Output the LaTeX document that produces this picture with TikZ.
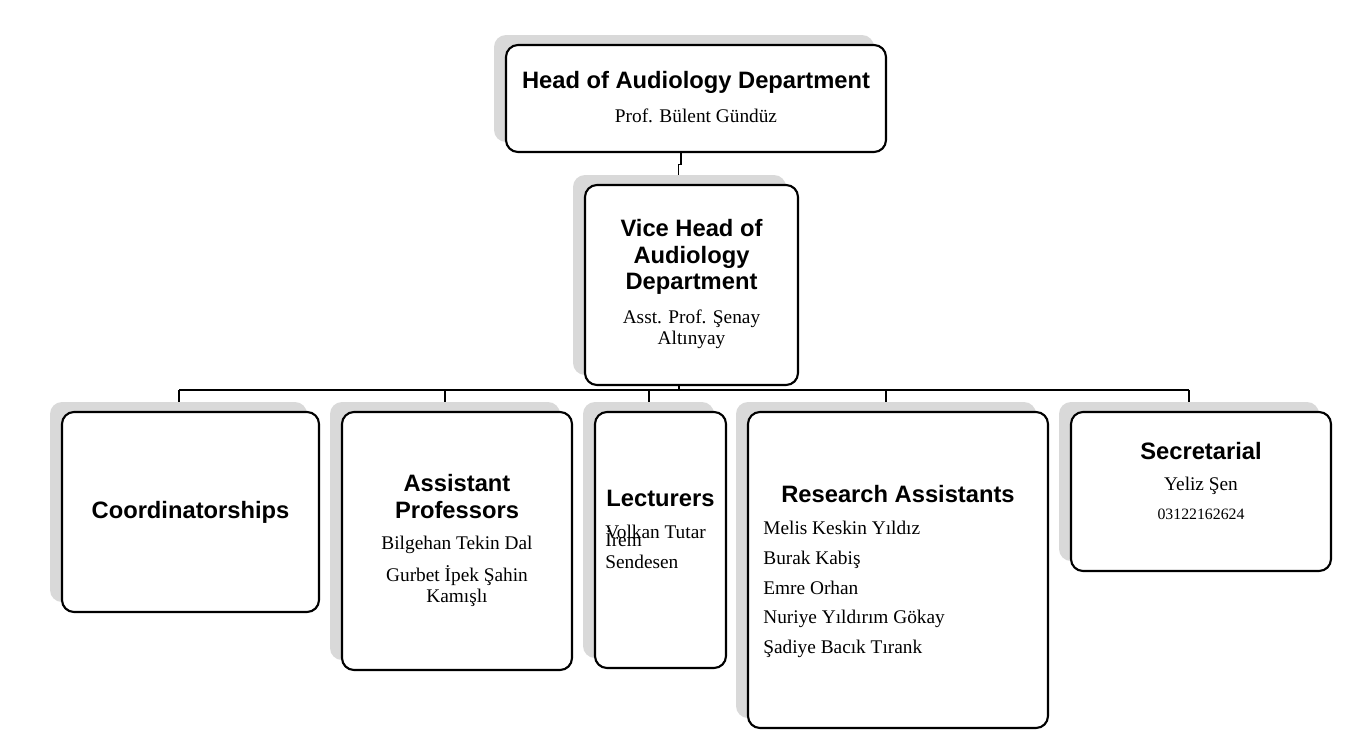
\documentclass[tikz,border=0pt]{standalone}
\usepackage{fontspec}
\setmainfont{Liberation Serif}
\newfontfamily\headfont{Liberation Sans}
\usetikzlibrary{shadows,backgrounds}
\tikzset{
  unit/.style={draw=black,line width=1.2pt,rounded corners=0.24cm,fill=white,
    general shadow={fill=black!15,shadow xshift=-0.24cm,shadow yshift=0.2cm}},
  title/.style={font=\headfont\bfseries\fontsize{13.5}{15}\selectfont,align=center},
  person/.style={font=\fontsize{11}{12}\selectfont,align=center},
  member/.style={font=\fontsize{11}{12}\selectfont,anchor=base west,align=left,inner sep=0pt},
  link/.style={draw=black,line width=0.6pt}
}
\begin{document}
\begin{tikzpicture}
\useasboundingbox (0,0) rectangle (27,-14.66);

\node[unit,minimum width=7.6cm,minimum height=2.14cm] (head) at (13.92,-1.97) {};		% Bolum baskani
\node[unit,minimum width=4.26cm,minimum height=4.0cm] (vice) at (13.83,-5.70) {};		% Baskan yardimcisi
\node[unit,minimum width=5.14cm,minimum height=4.0cm] (coord) at (3.81,-10.24) {};		% Koordinatorlukler
\node[unit,minimum width=4.6cm,minimum height=5.16cm] (asst) at (9.14,-10.82) {};		% Dr. ogretim uyeleri
\node[unit,minimum width=2.62cm,minimum height=5.12cm] (lect) at (13.21,-10.80) {};		% Ogretim gorevlileri
\node[unit,minimum width=6.0cm,minimum height=6.32cm] (res) at (17.96,-11.40) {};		% Arastirma gorevlileri
\node[unit,minimum width=5.2cm,minimum height=3.18cm] (sec) at (24.02,-9.83) {};		% Sekreterlik

\node[title] (headT) at (13.92,-1.64) {Head of Audiology Department};
\node[person] (headP) at (13.92,-2.32) {Prof. Bülent Gündüz};

\node[title] (viceT) at (13.83,-5.14) {Vice Head of\\Audiology\\Department};
\node[person] (viceP) at (13.83,-6.59) {Asst. Prof. Şenay\\Altınyay};

\node[title] (coordT) at (3.81,-10.24) {Coordinatorships};

\node[title] (asstT) at (9.14,-9.93) {Assistant\\Professors};
\node[person] (asstA) at (9.14,-10.9) {Bilgehan Tekin Dal};
\node[person] (asstB) at (9.14,-11.72) {Gurbet İpek Şahin\\Kamışlı};

\node[title] (lectT) at (13.21,-9.96) {Lecturers};
\node[member] (lectA) at (12.1,-10.76) {Volkan Tutar};
\node[member] (lectB) at (12.1,-11.36) {İrem\\Sendesen};

\node[title] (resT) at (17.96,-9.88) {Research Assistants};
\node[member] (resA) at (15.26,-10.68) {Melis Keskin Yıldız};
\node[member] (resB) at (15.26,-11.28) {Burak Kabiş};
\node[member] (resC) at (15.26,-11.88) {Emre Orhan};
\node[member] (resD) at (15.26,-12.46) {Nuriye Yıldırım Gökay};
\node[member] (resE) at (15.26,-13.06) {Şadiye Bacık Tırank};

\node[title] (secT) at (24.02,-9.02) {Secretarial};
\node[person] (secP) at (24.02,-9.72) {Yeliz Şen};
\node[font=\fontsize{9}{10}\selectfont] (secN) at (24.02,-10.28) {03122162624};

\coordinate (bus) at (13.58,-7.8);													% ortak hat
\begin{scope}[on background layer]
\draw[link] ([xshift=-0.3cm]head.south) -- ++(0,-0.22) -| ([xshift=-0.26cm]vice.north);	% baskan - yardimci
\draw[link] (vice.south -| bus) -- (bus);
\draw[link] (3.58,-7.8) -- (23.78,-7.8);												% yatay hat
\foreach \unitname/\x in {coord/3.58,asst/8.9,lect/12.98,res/17.72,sec/23.78}
  \draw[link] (\x,-7.8) -- (\unitname.north -| \x,0);								% inis cizgileri
\end{scope}

\end{tikzpicture}
\end{document}
